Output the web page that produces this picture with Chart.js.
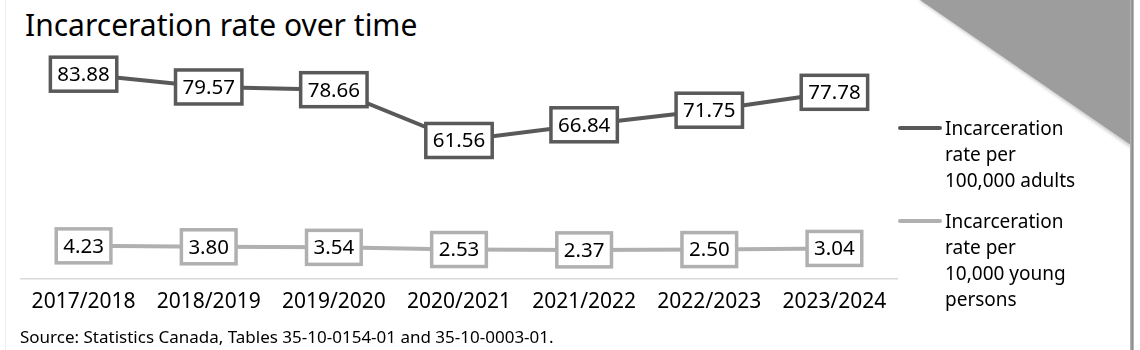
<!DOCTYPE html>
<html>
<head>
<meta charset="utf-8">
<script src="https://cdn.jsdelivr.net/npm/chart.js@4"></script>
<style>
  html, body { margin: 0; padding: 0; background: #fff; }
  body { width: 1140px; height: 350px; position: relative; overflow: hidden; font-family: "Noto Sans", sans-serif; color: #000; }
  #wrap { position: absolute; left: 0; top: 0; width: 1140px; height: 350px; }
  #title { position: absolute; left: 25px; top: 5px; font-size: 30px; line-height: 40px; white-space: nowrap; }
  #source { position: absolute; left: 20px; top: 325px; font-size: 17px; line-height: 24px; white-space: nowrap; }
  #legend { position: absolute; left: 898px; top: 0; }
  .item { position: absolute; left: 0; width: 200px; }
  .swatch { position: absolute; left: 0; width: 44px; height: 4px; border-radius: 2px; }
  .text { position: absolute; left: 47px; font-size: 19px; line-height: 26px; white-space: nowrap; }
  #corner { position: absolute; left: 0; top: 0; }
  #edge { position: absolute; left: 1130px; top: 0; width: 4px; height: 350px; background: linear-gradient(to right, #bbb, #888 60%, #ccc); }
  #leftedge { position: absolute; left: 5px; top: 0; width: 1px; height: 350px; background: #efefef; }
</style>
</head>
<body>
<svg id="corner" width="1140" height="350">
  <defs><filter id="blur"><feGaussianBlur stdDeviation="1.5"/></filter></defs>
  <polygon points="918,0 1131,0 1131,148" fill="#cfcfcf" filter="url(#blur)"/>
  <polygon points="920,0 1131,0 1131,145" fill="#9d9d9d"/>
</svg>
<div id="leftedge"></div>
<div id="edge"></div>
<div id="title">Incarceration rate over time</div>
<div id="wrap"><canvas id="chart"></canvas></div>
<div id="legend"></div>
<div id="source">Source: Statistics Canada, Tables 35-10-0154-01 and 35-10-0003-01.</div>
<script>
const years = ['2017/2018', '2018/2019', '2019/2020', '2020/2021', '2021/2022', '2022/2023', '2023/2024'];
const adultRates = [83.88, 79.57, 78.66, 61.56, 66.84, 71.75, 77.78];
const youthRates = [4.23, 3.80, 3.54, 2.53, 2.37, 2.50, 3.04];
const seriesNames = [
  ['Incarceration', 'rate per', '100,000 adults'],
  ['Incarceration', 'rate per', '10,000 young', 'persons']
];
const seriesColors = ['#595959', '#b0b0b0'];

// boxed value labels drawn on each point
const boxLabels = {
  id: 'boxLabels',
  afterDraw(chart) {
    const ctx = chart.ctx;
    ctx.save();
    ctx.font = '20.5px "Noto Sans"';
    ctx.textAlign = 'center';
    ctx.textBaseline = 'middle';
    chart.data.datasets.forEach((ds, i) => {
      const meta = chart.getDatasetMeta(i);
      meta.data.forEach((pt, j) => {
        const txt = ds.data[j].toFixed(2);
        const w = ctx.measureText(txt).width + 14;
        const h = 34;
        ctx.fillStyle = '#fff';
        ctx.fillRect(pt.x - w / 2, pt.y - h / 2, w, h);
        ctx.lineWidth = 3.5;
        ctx.strokeStyle = ds.borderColor;
        ctx.strokeRect(pt.x - w / 2, pt.y - h / 2, w, h);
        ctx.fillStyle = '#000';
        ctx.fillText(txt, pt.x, pt.y + 1);
      });
    });
    ctx.restore();
  }
};

const chart = new Chart(document.getElementById('chart'), {
  type: 'line',
  data: {
    labels: years,
    datasets: [{
      label: seriesNames[0].join(' '),
      data: adultRates,
      borderColor: seriesColors[0],
      borderWidth: 4,
      pointRadius: 0,
      yAxisID: 'yAdults'
    }, {
      label: seriesNames[1].join(' '),
      data: youthRates,
      borderColor: seriesColors[1],
      borderWidth: 4,
      pointRadius: 0,
      yAxisID: 'yYouth'
    }]
  },
  options: {
    responsive: true,
    maintainAspectRatio: false,
    animation: false,
    layout: { padding: { left: 21, right: 243, top: 56, bottom: 32 } },
    scales: {
      x: {
        offset: true,
        grid: { display: false },
        border: { display: true, color: '#d9d9d9', width: 1.5 },
        ticks: { color: '#000', padding: 3, font: { family: 'Noto Sans', size: 21 }, maxRotation: 0 }
      },
      yAdults: { display: false, min: 15, max: 90 },
      yYouth: { display: false, min: -11, max: 92 }
    },
    plugins: {
      legend: { display: false },
      tooltip: { enabled: false }
    }
  },
  plugins: [boxLabels]
});

// legend beside the plot
const legendTops = [128, 221];
const legend = document.getElementById('legend');
seriesNames.forEach((lines, i) => {
  const item = document.createElement('div');
  item.className = 'item';
  item.style.top = legendTops[i] + 'px';
  const sw = document.createElement('div');
  sw.className = 'swatch';
  sw.style.background = seriesColors[i];
  sw.style.top = '-2px';
  const tx = document.createElement('div');
  tx.className = 'text';
  tx.style.top = '-13px';
  tx.innerHTML = lines.join('<br>');
  item.appendChild(sw);
  item.appendChild(tx);
  legend.appendChild(item);
});
</script>
</body>
</html>
